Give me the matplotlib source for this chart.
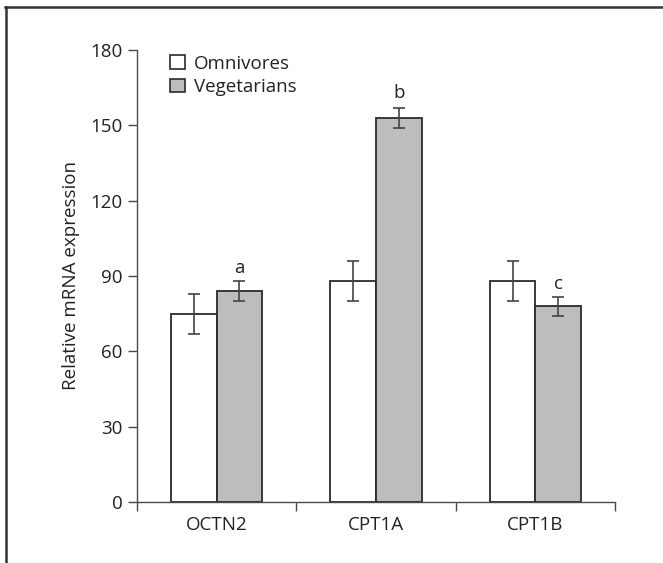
import numpy as np
import matplotlib
matplotlib.use("Agg")
import matplotlib.pyplot as plt
from matplotlib.patches import Patch
from matplotlib.lines import Line2D

plt.rcParams['font.family'] = ['Open Sans', 'DejaVu Sans']

genes = ["OCTN2", "CPT1A", "CPT1B"]
omni = [75, 88, 88]
omni_err = [8, 8, 8]
veg = [84, 153, 78]
veg_err = [4, 4, 3.8]
sig_letters = ["a", "b", "c"]
sig_y = [93, 163, 87]

edge = "#2b2b2b"
axis_col = "#4a4a4a"
fs = 13.5

fig = plt.figure(figsize=(6.63, 5.63), dpi=100)
ax = fig.add_axes([137/663, 1 - 502/563, (615-137)/663, (502-50)/563])

x = np.arange(len(genes))
w = 0.286
ax.bar(x - w/2, omni, w, color="white", edgecolor=edge, linewidth=1.3, zorder=2)
ax.bar(x + w/2, veg, w, color="#bcbdbf", edgecolor=edge, linewidth=1.3, zorder=2)
ax.errorbar(x - w/2, omni, yerr=omni_err, fmt="none", ecolor="#444444",
            elinewidth=1.2, capsize=4.5, capthick=1.2, zorder=3)
ax.errorbar(x + w/2, veg, yerr=veg_err, fmt="none", ecolor="#444444",
            elinewidth=1.2, capsize=4.5, capthick=1.2, zorder=3)
for xi, lab, yy in zip(x, sig_letters, sig_y):
    ax.text(xi + w/2, yy, lab, ha="center", va="center", fontsize=fs, color="#222222")

ax.set_xlim(-0.5, len(genes) - 0.5)
ax.set_ylim(0, 180)
ax.set_yticks([0, 30, 60, 90, 120, 150, 180])
ax.set_xticks(np.arange(len(genes) + 1) - 0.5)
ax.set_xticklabels([])
ax.set_xticks(x, minor=True)
ax.set_xticklabels(genes, minor=True)
ax.tick_params(axis="x", which="major", length=6.5, width=1.0, color=axis_col, direction="out")
ax.tick_params(axis="x", which="minor", length=0, pad=10, labelsize=fs, labelcolor="#222222")
ax.tick_params(axis="y", length=6.5, width=1.0, color=axis_col, pad=4, labelsize=fs, labelcolor="#222222")
for s in ["top", "right"]:
    ax.spines[s].set_visible(False)
for s in ["left", "bottom"]:
    ax.spines[s].set_color(axis_col)
    ax.spines[s].set_linewidth(1.0)
ax.set_ylabel("Relative mRNA expression", fontsize=fs, color="#222222", labelpad=7)

handles = [Patch(facecolor="white", edgecolor=edge, linewidth=1.2),
           Patch(facecolor="#bcbdbf", edgecolor=edge, linewidth=1.2)]
ax.legend(handles, ["Omnivores", "Vegetarians"], loc="upper left",
          bbox_to_anchor=(0.069, 0.99), frameon=False, fontsize=fs,
          handlelength=0.8, handleheight=0.7, handletextpad=0.5,
          labelspacing=0.3, borderpad=0, borderaxespad=0, labelcolor="#222222")

# outer frame (top and left only)
fig.add_artist(Line2D([5/663, 1], [1 - 7/563, 1 - 7/563], color="#333333", linewidth=1.8))
fig.add_artist(Line2D([6/663, 6/663], [0, 1 - 7/563], color="#333333", linewidth=1.8))

fig.savefig("out.png", dpi=100)
